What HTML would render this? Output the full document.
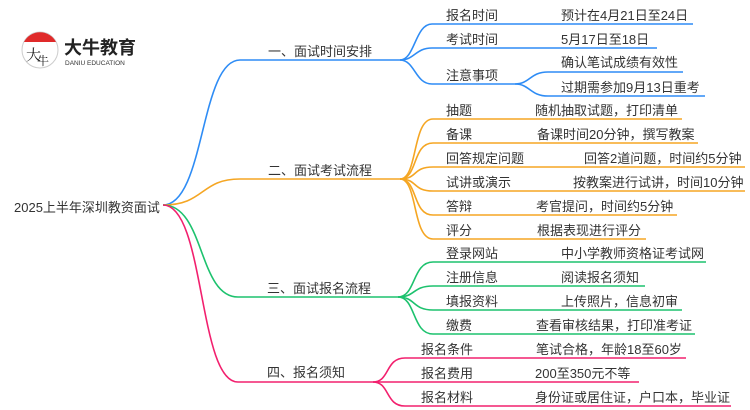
<!DOCTYPE html>
<html><head><meta charset="utf-8"><style>
html,body{margin:0;padding:0;background:#fff;width:750px;height:410px;overflow:hidden}
svg text{font-family:"Liberation Sans","Noto Sans CJK SC",sans-serif;font-size:13px;fill:#333}
</style></head><body>
<svg width="750" height="410" viewBox="0 0 750 410" xmlns="http://www.w3.org/2000/svg">
<!-- logo -->
<circle cx="40" cy="50" r="18" fill="#fff" stroke="#ccc" stroke-width="1"/>
<path d="M24 42 A18 18 0 0 1 56 42 Z" fill="#e02a2a"/>
<text x="26" y="60" style="font-size:15px;fill:#222;font-family:'Noto Serif CJK SC',serif">大</text>
<text x="37" y="65" style="font-size:12px;fill:#222;font-family:'Noto Serif CJK SC',serif">牛</text>
<text x="64" y="54" style="font-size:18px;font-weight:bold;fill:#222">大牛教育</text>
<text x="65" y="65" style="font-size:6.5px;fill:#333">DANIU EDUCATION</text>

<g fill="none" stroke-width="1.6">
<g stroke="#2e8cf5">
<path d="M163 205 C205 205 200 60 240 60 L400 60"/>
<path d="M400 60 C415 60 415 24 432 24 L693 24"/>
<path d="M400 60 C415 60 415 48 432 48 L657 48"/>
<path d="M400 60 C415 60 415 84 432 84 L515 84"/>
<path d="M515 84 C530 84 530 72 548 72 L683 72"/>
<path d="M515 84 C530 84 530 96 548 96 L705 96"/>
</g>
<g stroke="#f5a623">
<path d="M163 205 C205 205 200 179 240 179 L400 179"/>
<path d="M400 179 C418 179 412 119 433 119 L682 119"/>
<path d="M400 179 C418 179 412 143 433 143 L698 143"/>
<path d="M400 179 C418 179 412 167 433 167 L745 167"/>
<path d="M400 179 C418 179 412 191 433 191 L745 191"/>
<path d="M400 179 C418 179 412 215 433 215 L677 215"/>
<path d="M400 179 C418 179 412 239 433 239 L646 239"/>
</g>
<g stroke="#1dc26e">
<path d="M163 205 C205 205 198 297 238 297 L398 297"/>
<path d="M398 297 C416 297 412 262 433 262 L706 262"/>
<path d="M398 297 C416 297 412 286 433 286 L645 286"/>
<path d="M398 297 C416 297 412 310 433 310 L682 310"/>
<path d="M398 297 C416 297 412 334 433 334 L695 334"/>
</g>
<g stroke="#f2206e">
<path d="M163 205 C205 205 198 382 238 382 L373 382"/>
<path d="M373 382 C390 382 385 358 405 358 L686 358"/>
<path d="M373 382 L639 382"/>
<path d="M373 382 C390 382 385 406 405 406 L731 406"/>
</g>
</g>

<text x="14" y="212">2025上半年深圳教资面试</text>
<text x="268" y="56">一、面试时间安排</text>
<text x="268" y="175">二、面试考试流程</text>
<text x="267" y="293">三、面试报名流程</text>
<text x="267" y="377">四、报名须知</text>

<text x="446" y="20">报名时间</text><text x="561" y="20">预计在4月21日至24日</text>
<text x="446" y="44">考试时间</text><text x="561" y="44">5月17日至18日</text>
<text x="446" y="80">注意事项</text>
<text x="561" y="67">确认笔试成绩有效性</text>
<text x="561" y="92">过期需参加9月13日重考</text>

<text x="446" y="115">抽题</text><text x="535" y="115">随机抽取试题，打印清单</text>
<text x="446" y="139">备课</text><text x="537" y="139">备课时间20分钟，撰写教案</text>
<text x="446" y="163">回答规定问题</text><text x="584" y="163">回答2道问题，时间约5分钟</text>
<text x="446" y="187">试讲或演示</text><text x="573" y="187">按教案进行试讲，时间10分钟</text>
<text x="446" y="211">答辩</text><text x="536" y="211">考官提问，时间约5分钟</text>
<text x="446" y="235">评分</text><text x="537" y="235">根据表现进行评分</text>

<text x="446" y="258">登录网站</text><text x="561" y="258">中小学教师资格证考试网</text>
<text x="446" y="282">注册信息</text><text x="561" y="282">阅读报名须知</text>
<text x="446" y="306">填报资料</text><text x="561" y="306">上传照片，信息初审</text>
<text x="446" y="330">缴费</text><text x="536" y="330">查看审核结果，打印准考证</text>

<text x="421" y="354">报名条件</text><text x="536" y="354">笔试合格，年龄18至60岁</text>
<text x="421" y="378">报名费用</text><text x="535" y="378">200至350元不等</text>
<text x="421" y="402">报名材料</text><text x="535" y="402">身份证或居住证，户口本，毕业证</text>
</svg>
</body></html>
